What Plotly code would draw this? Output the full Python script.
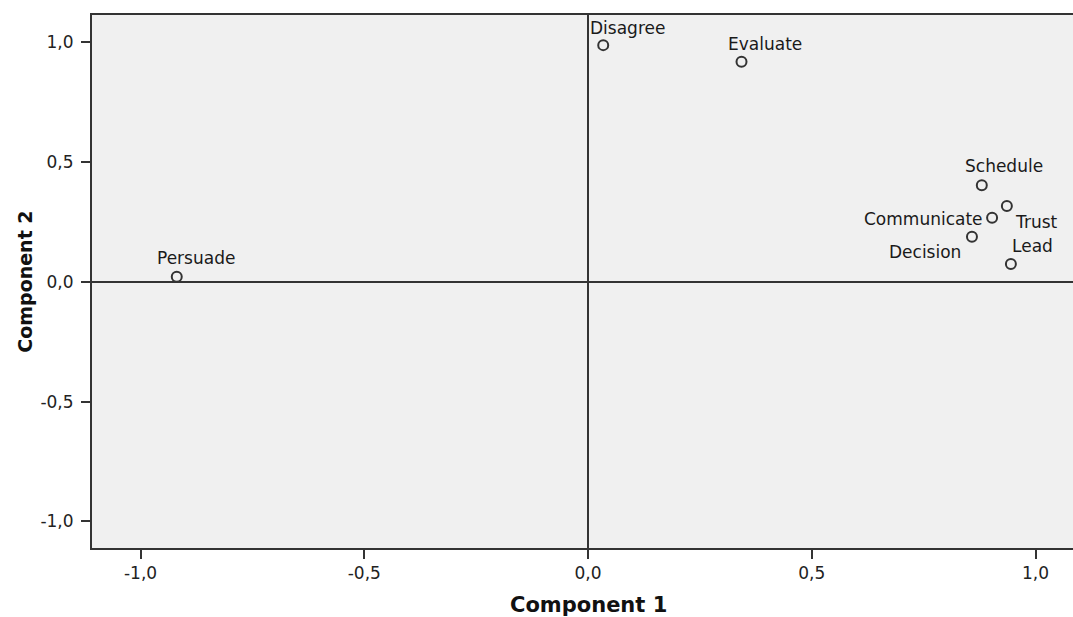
import plotly.graph_objects as go

# Data
variables = ["Persuade", "Disagree", "Evaluate", "Schedule", "Trust",
             "Communicate", "Decision", "Lead"]
component1 = [-0.919, 0.034, 0.343, 0.880, 0.936, 0.903, 0.858, 0.945]
component2 = [0.021, 0.987, 0.918, 0.403, 0.316, 0.267, 0.188, 0.074]

tick_vals = [-1.0, -0.5, 0.0, 0.5, 1.0]
tick_text = ["-1,0", "-0,5", "0,0", "0,5", "1,0"]

# label placement styles (anchor, xshift, yshift) per variable
label_style = {
    "Persuade": ("left", -22, 19),
    "Disagree": ("left", -15, 17),
    "Evaluate": ("left", -16, 18),
    "Schedule": ("left", -19, 19),
    "Trust": ("left", 6, -16),
    "Communicate": ("right", -7, -1),
    "Decision": ("right", -9, -15),
    "Lead": ("left", -1, 18),
}

LINE = "#333333"
BG = "#F0F0F0"
FONT = "DejaVu Sans, Verdana, sans-serif"

fig = go.Figure()
fig.add_trace(go.Scatter(
    x=component1, y=component2, mode="markers",
    marker=dict(symbol="circle", size=10, color=BG,
                line=dict(color=LINE, width=2)),
    hovertext=variables, showlegend=False,
))

annotations = []
for name, cx, cy in zip(variables, component1, component2):
    anchor, xs, ys = label_style[name]
    annotations.append(dict(
        x=cx, y=cy, xref="x", yref="y", text=name, showarrow=False,
        xanchor=anchor, yanchor="middle", xshift=xs, yshift=ys,
        font=dict(family=FONT, size=17, color="#1a1a1a"),
    ))

# axis titles
annotations.append(dict(
    x=0, y=0, xref="x", yref="paper", text="<b>Component 1</b>",
    showarrow=False, xanchor="center", yanchor="middle", yshift=-57,
    font=dict(family="DejaVu Sans, sans-serif", size=21, color="#111111"),
))
annotations.append(dict(
    x=0, y=0, xref="paper", yref="y", text="<b>Component 2</b>",
    showarrow=False, xanchor="center", yanchor="middle", xshift=-67,
    textangle=-90,
    font=dict(family="DejaVu Sans, sans-serif", size=19, color="#111111"),
))

fig.update_layout(
    width=1073, height=617,
    margin=dict(l=92, r=0, t=15, b=69),
    plot_bgcolor=BG, paper_bgcolor="white",
    annotations=annotations,
    xaxis=dict(
        range=[-1.1084, 1.0838], tickvals=tick_vals, ticktext=tick_text,
        showgrid=False, zeroline=True, zerolinecolor=LINE, zerolinewidth=2,
        showline=True, linecolor=LINE, linewidth=2, mirror=True,
        ticks="outside", ticklen=9, tickwidth=2, tickcolor=LINE,
        tickfont=dict(family=FONT, size=17, color="#222222"),
    ),
    yaxis=dict(
        range=[-1.1106, 1.1127], tickvals=tick_vals, ticktext=tick_text,
        showgrid=False, zeroline=True, zerolinecolor=LINE, zerolinewidth=2,
        showline=True, linecolor=LINE, linewidth=2,
        ticks="outside", ticklen=9, tickwidth=2, tickcolor=LINE,
        ticklabelstandoff=4,
        tickfont=dict(family=FONT, size=17, color="#222222"),
    ),
)

fig.write_html(
    "out.html",
    config={"displayModeBar": False},
    post_script="document.body.style.margin='0';"
                "document.body.style.overflow='hidden';",
)
